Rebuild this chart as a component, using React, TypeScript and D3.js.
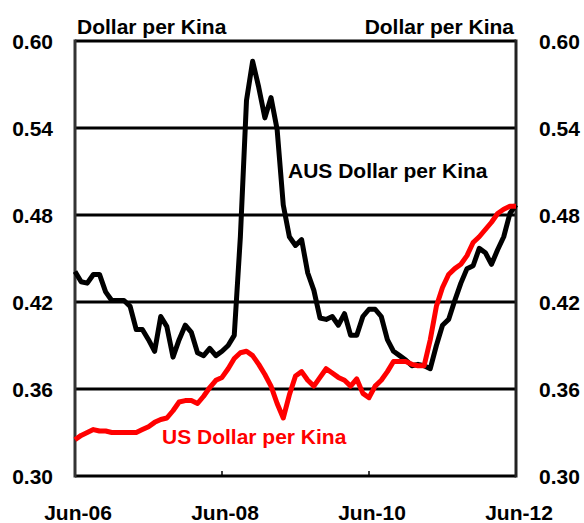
import React from "react";
import * as d3 from "d3";

// monthly observations, Jun-06 .. Jun-12 (73 months)
const audPerKina = [
  0.441, 0.434, 0.433, 0.439, 0.439, 0.427, 0.421, 0.421, 0.421, 0.417,
  0.401, 0.401, 0.394, 0.386, 0.41, 0.403, 0.382, 0.394, 0.404, 0.399,
  0.385, 0.383, 0.388, 0.383, 0.386, 0.39, 0.397, 0.465, 0.559, 0.586,
  0.568, 0.547, 0.561, 0.539, 0.487, 0.465, 0.459, 0.463, 0.44, 0.428,
  0.409, 0.408, 0.41, 0.404, 0.412, 0.397, 0.397, 0.41, 0.415, 0.415,
  0.41, 0.394, 0.386, 0.383, 0.38, 0.376, 0.377, 0.376, 0.374, 0.39,
  0.404, 0.408, 0.421, 0.433, 0.443, 0.445, 0.457, 0.454, 0.446, 0.456,
  0.465, 0.481, 0.487,
];

const usdPerKina = [
  0.325, 0.328, 0.33, 0.332, 0.331, 0.331, 0.33, 0.33, 0.33, 0.33,
  0.33, 0.332, 0.334, 0.337, 0.339, 0.34, 0.345, 0.351, 0.352, 0.352,
  0.35, 0.355, 0.361, 0.366, 0.368, 0.374, 0.381, 0.385, 0.386, 0.383,
  0.377, 0.37, 0.362, 0.35, 0.34, 0.356, 0.369, 0.372, 0.366, 0.362,
  0.368, 0.374, 0.371, 0.368, 0.366, 0.362, 0.367, 0.357, 0.354, 0.362,
  0.366, 0.372, 0.379, 0.379, 0.379, 0.377, 0.376, 0.376, 0.394, 0.417,
  0.43, 0.439, 0.443, 0.446, 0.452, 0.461, 0.465, 0.47, 0.475, 0.481,
  0.484, 0.486, 0.486,
];

const xTickLabels = ["Jun-06", "Jun-08", "Jun-10", "Jun-12"];
const xTickIndex = [0, 24, 48, 72];
const yTicks = [0.3, 0.36, 0.42, 0.48, 0.54, 0.6];

const W = 584;
const H = 523;
const FONT = "'Liberation Sans', Arial, sans-serif";

export default function App() {
  const left = 75;
  const right = 516;
  const top = 41;
  const bottom = 476;

  const x = d3.scaleLinear().domain([0, audPerKina.length - 1]).range([left, right]);
  const y = d3.scaleLinear().domain([0.3, 0.6]).range([bottom, top]);

  const line = d3
    .line<number>()
    .x((_, i) => x(i))
    .y((d) => y(d));

  return (
    <svg
      width={W}
      height={H}
      style={{ position: "absolute", left: 0, top: 0, background: "#fff" }}
      fontFamily={FONT}
      fontWeight="bold"
    >
      {/* gridlines */}
      {yTicks.map((t) => (
        <line key={t} x1={left} x2={right} y1={y(t)} y2={y(t)} stroke="#000" strokeWidth={3} />
      ))}
      {/* frame */}
      <line x1={left} x2={left} y1={top - 1.5} y2={bottom + 1.5} stroke="#333" strokeWidth={3} />
      <line x1={right} x2={right} y1={top - 1.5} y2={bottom + 1.5} stroke="#222" strokeWidth={3} />
      {xTickIndex.slice(1, -1).map((t) => (
        <line key={t} x1={x(t)} x2={x(t)} y1={bottom} y2={bottom - 5} stroke="#000" strokeWidth={1.5} />
      ))}

      {/* series */}
      <path d={line(audPerKina) || ""} fill="none" stroke="#000" strokeWidth={5} strokeLinejoin="round" />
      <path d={line(usdPerKina) || ""} fill="none" stroke="#ff0000" strokeWidth={5} strokeLinejoin="round" />

      {/* y labels */}
      {yTicks.map((t) => (
        <g key={t}>
          <text x={53} y={y(t) + 8} textAnchor="end" fontSize={21}>
            {t.toFixed(2)}
          </text>
          <text x={539} y={y(t) + 8} textAnchor="start" fontSize={21}>
            {t.toFixed(2)}
          </text>
        </g>
      ))}

      {/* x labels */}
      {xTickLabels.map((lab, i) => (
        <text key={lab} x={x(xTickIndex[i]) + 3} y={520} textAnchor="middle" fontSize={21}>
          {lab}
        </text>
      ))}

      <text x={77} y={34} fontSize={21}>Dollar per Kina</text>
      <text x={514} y={34} fontSize={21} textAnchor="end">Dollar per Kina</text>
      <text x={288} y={178} fontSize={21}>AUS Dollar per Kina</text>
      <text x={162} y={444} fontSize={21} fill="#ff0000">US Dollar per Kina</text>
    </svg>
  );
}
